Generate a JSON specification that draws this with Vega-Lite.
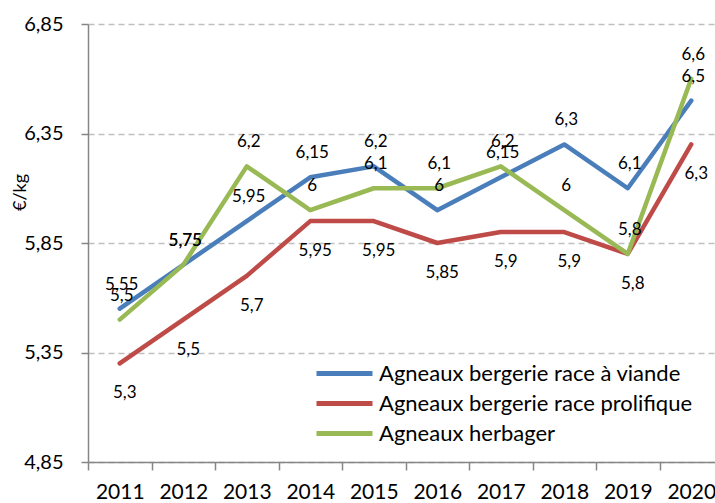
{
  "$schema": "https://vega.github.io/schema/vega-lite/v6.json",
  "autosize": {"type": "none"},
  "width": 627,
  "height": 438,
  "padding": {"left": 88, "top": 24, "right": 0, "bottom": 41},
  "background": "white",
  "config": {
    "locale": {"number": {"decimal": ",", "thousands": " ", "grouping": [3], "currency": ["", " €"]}},
    "view": {"stroke": null},
    "font": "Lato"
  },
  "data": {
    "values": [
      {"year": "2011", "series": "Agneaux bergerie race à viande", "value": 5.55},
      {"year": "2012", "series": "Agneaux bergerie race à viande", "value": 5.75},
      {"year": "2013", "series": "Agneaux bergerie race à viande", "value": 5.95},
      {"year": "2014", "series": "Agneaux bergerie race à viande", "value": 6.15},
      {"year": "2015", "series": "Agneaux bergerie race à viande", "value": 6.2},
      {"year": "2016", "series": "Agneaux bergerie race à viande", "value": 6.0},
      {"year": "2017", "series": "Agneaux bergerie race à viande", "value": 6.15},
      {"year": "2018", "series": "Agneaux bergerie race à viande", "value": 6.3},
      {"year": "2019", "series": "Agneaux bergerie race à viande", "value": 6.1},
      {"year": "2020", "series": "Agneaux bergerie race à viande", "value": 6.5},
      {"year": "2011", "series": "Agneaux bergerie race prolifique", "value": 5.3},
      {"year": "2012", "series": "Agneaux bergerie race prolifique", "value": 5.5},
      {"year": "2013", "series": "Agneaux bergerie race prolifique", "value": 5.7},
      {"year": "2014", "series": "Agneaux bergerie race prolifique", "value": 5.95},
      {"year": "2015", "series": "Agneaux bergerie race prolifique", "value": 5.95},
      {"year": "2016", "series": "Agneaux bergerie race prolifique", "value": 5.85},
      {"year": "2017", "series": "Agneaux bergerie race prolifique", "value": 5.9},
      {"year": "2018", "series": "Agneaux bergerie race prolifique", "value": 5.9},
      {"year": "2019", "series": "Agneaux bergerie race prolifique", "value": 5.8},
      {"year": "2020", "series": "Agneaux bergerie race prolifique", "value": 6.3},
      {"year": "2011", "series": "Agneaux herbager", "value": 5.5},
      {"year": "2012", "series": "Agneaux herbager", "value": 5.75},
      {"year": "2013", "series": "Agneaux herbager", "value": 6.2},
      {"year": "2014", "series": "Agneaux herbager", "value": 6.0},
      {"year": "2015", "series": "Agneaux herbager", "value": 6.1},
      {"year": "2016", "series": "Agneaux herbager", "value": 6.1},
      {"year": "2017", "series": "Agneaux herbager", "value": 6.2},
      {"year": "2018", "series": "Agneaux herbager", "value": 6.0},
      {"year": "2019", "series": "Agneaux herbager", "value": 5.8},
      {"year": "2020", "series": "Agneaux herbager", "value": 6.6}
    ]
  },
  "encoding": {
    "x": {
      "field": "year", "type": "ordinal", "bandPosition": 0.5,
      "scale": {"type": "band", "paddingInner": 0, "paddingOuter": 0, "range": [0, 635]},
      "axis": {
        "title": null, "labelAngle": 0, "labelFontSize": 21, "labelColor": "#000000", "labelFont": "Lato",
        "tickBand": "extent", "tickSize": 8, "tickColor": "#868686", "tickWidth": 1.5,
        "domainColor": "#868686", "domainWidth": 1.5, "labelPadding": 11, "grid": false
      }
    },
    "y": {
      "field": "value", "type": "quantitative",
      "scale": {"domain": [4.85, 6.85], "nice": false, "zero": false},
      "axis": {
        "values": [4.85, 5.35, 5.85, 6.35, 6.85], "format": ".2f",
        "title": "€/kg", "titleFont": "Lato", "titleFontSize": 18, "titleFontWeight": "normal", "titleColor": "#000000",
        "titleAngle": -90, "titleX": -68, "titleY": 168, "titleAlign": "center", "titleBaseline": "middle",
        "labelFontSize": 20, "labelColor": "#000000", "labelFont": "Lato", "labelPadding": 18,
        "tickSize": 7, "tickColor": "#868686", "tickWidth": 1.5,
        "domainColor": "#868686", "domainWidth": 1.5,
        "grid": true, "gridColor": "#BFBFBF", "gridDash": [6, 4], "gridWidth": 1.3
      }
    }
  },
  "layer": [
    {
      "mark": {"type": "line", "strokeWidth": 4.5, "strokeJoin": "round", "strokeCap": "round"},
      "encoding": {
        "color": {
          "field": "series", "type": "nominal",
          "scale": {
            "domain": ["Agneaux bergerie race à viande", "Agneaux bergerie race prolifique", "Agneaux herbager"],
            "range": ["#4A7EBB", "#BE4B48", "#98B954"]
          },
          "legend": {
            "title": null, "orient": "none", "legendX": 244, "legendY": 337,
            "symbolType": "M-2.8,0H2.8", "symbolSize": 400, "symbolStrokeWidth": 5,
            "labelFontSize": 22, "labelFont": "Lato", "labelColor": "#000000", "labelOffset": 22,
            "rowPadding": 6, "labelLimit": 400
          }
        }
      }
    },
    {
      "transform": [{"filter": "datum.series === 'Agneaux bergerie race à viande'"}],
      "mark": {"type": "text", "fontSize": 17, "font": "Lato", "color": "#000000", "dy": -24, "dx": 2},
      "encoding": {"text": {"field": "value", "type": "quantitative", "format": "~g"}}
    },
    {
      "transform": [{"filter": "datum.series === 'Agneaux bergerie race prolifique'"}],
      "mark": {"type": "text", "fontSize": 17, "font": "Lato", "color": "#000000", "dy": 30, "dx": 5},
      "encoding": {"text": {"field": "value", "type": "quantitative", "format": "~g"}}
    },
    {
      "transform": [{"filter": "datum.series === 'Agneaux herbager'"}],
      "mark": {"type": "text", "fontSize": 17, "font": "Lato", "color": "#000000", "dy": -24, "dx": 2},
      "encoding": {"text": {"field": "value", "type": "quantitative", "format": "~g"}}
    }
  ]
}
